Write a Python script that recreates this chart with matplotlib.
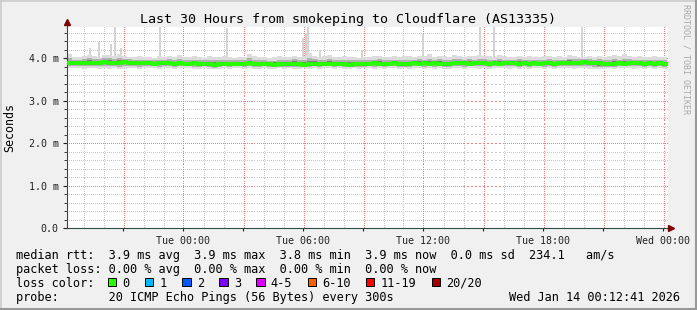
import numpy as np
import matplotlib
matplotlib.use("Agg")
import matplotlib.pyplot as plt
from matplotlib.ticker import MultipleLocator, FuncFormatter, NullLocator
from matplotlib.lines import Line2D
from matplotlib.patches import Rectangle

# 15 minute samples, hours relative to Tue 00:00 (Mon 18:12 .. Wed 00:12)
t_start, t_end, t_step = -5.8, 24.2, 0.25

median_ms = [3.88, 3.89, 3.88, 3.89, 3.90, 3.89, 3.90, 3.91, 3.90, 3.89, 3.90, 3.91, 3.90, 3.89, 3.88, 3.89, 3.88, 3.87, 3.88, 3.89, 3.88, 3.87, 3.88, 3.87,
             3.87, 3.88, 3.86, 3.87, 3.86, 3.85, 3.86, 3.87, 3.86, 3.87, 3.86, 3.87, 3.88, 3.87, 3.86, 3.87, 3.86, 3.85, 3.86, 3.87, 3.86, 3.87, 3.86, 3.85,
             3.86, 3.87, 3.86, 3.87, 3.87, 3.86, 3.87, 3.86, 3.85, 3.86, 3.87, 3.86, 3.87, 3.88, 3.87, 3.86, 3.87, 3.88, 3.87, 3.86, 3.87, 3.88, 3.87, 3.88,
             3.87, 3.88, 3.87, 3.86, 3.87, 3.88, 3.89, 3.88, 3.87, 3.88, 3.89, 3.88, 3.87, 3.88, 3.87, 3.88, 3.89, 3.88, 3.87, 3.88, 3.87, 3.88, 3.87, 3.88,
             3.88, 3.87, 3.88, 3.89, 3.90, 3.89, 3.90, 3.91, 3.90, 3.89, 3.88, 3.87, 3.86, 3.87, 3.88, 3.87, 3.88, 3.89, 3.88, 3.87, 3.88, 3.87, 3.88, 3.87]

smoke_hi_ms = [4.10, 4.04, 4.03, 4.05, 4.08, 4.06, 4.04, 4.07, 4.09, 4.05, 4.11, 4.06, 4.04, 4.03, 4.05, 4.04, 4.03, 4.02, 4.05, 4.03, 4.06, 4.04, 4.07, 4.03,
               4.04, 4.05, 4.03, 4.02, 4.06, 4.04, 4.03, 4.05, 4.04, 4.02, 4.03, 4.04, 4.10, 4.05, 4.03, 4.04, 4.02, 4.03, 4.05, 4.04, 4.03, 4.06, 4.04, 4.05,
               4.12, 4.06, 4.04, 4.05, 4.08, 4.04, 4.03, 4.05, 4.04, 4.03, 4.02, 4.04, 4.03, 4.05, 4.06, 4.04, 4.03, 4.05, 4.04, 4.06, 4.05, 4.04, 4.06, 4.05,
               4.10, 4.04, 4.06, 4.05, 4.03, 4.07, 4.05, 4.04, 4.06, 4.05, 4.08, 4.06, 4.05, 4.04, 4.07, 4.05, 4.04, 4.03, 4.06, 4.04, 4.05, 4.03, 4.04, 4.05,
               4.06, 4.04, 4.05, 4.03, 4.07, 4.05, 4.04, 4.03, 4.05, 4.04, 4.06, 4.04, 4.05, 4.07, 4.05, 4.10, 4.06, 4.04, 4.05, 4.03, 4.04, 4.05, 4.04, 4.03]

smoke_lo_ms = [3.78, 3.77, 3.78, 3.76, 3.77, 3.78, 3.75, 3.77, 3.76, 3.78, 3.74, 3.76, 3.77, 3.78, 3.76, 3.77, 3.78, 3.77, 3.76, 3.78, 3.77, 3.76, 3.77, 3.78,
               3.77, 3.76, 3.75, 3.77, 3.76, 3.74, 3.76, 3.77, 3.76, 3.77, 3.78, 3.76, 3.77, 3.76, 3.75, 3.77, 3.76, 3.75, 3.77, 3.76, 3.77, 3.75, 3.76, 3.77,
               3.76, 3.77, 3.76, 3.77, 3.78, 3.76, 3.77, 3.75, 3.76, 3.77, 3.76, 3.77, 3.78, 3.76, 3.77, 3.76, 3.77, 3.78, 3.76, 3.77, 3.76, 3.77, 3.78, 3.76,
               3.77, 3.76, 3.77, 3.75, 3.76, 3.77, 3.78, 3.76, 3.77, 3.78, 3.76, 3.77, 3.76, 3.77, 3.78, 3.77, 3.76, 3.77, 3.76, 3.77, 3.76, 3.78, 3.77, 3.76,
               3.77, 3.76, 3.77, 3.78, 3.77, 3.76, 3.77, 3.78, 3.76, 3.75, 3.74, 3.76, 3.77, 3.76, 3.77, 3.78, 3.77, 3.76, 3.77, 3.76, 3.77, 3.76, 3.77, 3.76]

# occasional slow pings (hours, top of smoke in ms)
spike_t = [-4.65, -4.2, -3.6, -3.4, -3.1, -1.15, 2.2, 6.0, 6.15, 6.25, 6.85, 8.95, 12.0, 14.85, 15.55, 19.95]
spike_top_ms = [4.24, 4.38, 4.33, 4.74, 4.24, 4.74, 4.72, 4.47, 4.60, 4.74, 4.20, 4.19, 4.57, 4.74, 4.74, 4.74]

tick_hours = [0, 6, 12, 18, 24]
tick_names = ["Tue 00:00", "Tue 06:00", "Tue 12:00", "Tue 18:00", "Wed 00:00"]

title = "Last 30 Hours from smokeping to Cloudflare (AS13335)"
legend_lines = [
    "median rtt:  3.9 ms avg  3.9 ms max  3.8 ms min  3.9 ms now  0.0 ms sd  234.1   am/s",
    "packet loss: 0.00 % avg  0.00 % max  0.00 % min  0.00 % now",
    "loss color:",
    "probe:       20 ICMP Echo Pings (56 Bytes) every 300s",
]
loss_labels = ["0", "1", "2", "3", "4-5", "6-10", "11-19", "20/20"]
loss_colors = ["#26ff00", "#00b8ff", "#0059ff", "#7e00ff", "#dd00ff", "#ff5e00", "#ff0000", "#a10000"]
stamp = "Wed Jan 14 00:12:41 2026"

W, H = 697, 310
mono = "DejaVu Sans Mono"
plt.rcParams["font.family"] = mono
fs = 8.55

fig = plt.figure(figsize=(W / 100, H / 100), dpi=100, facecolor="#F0F0F0")
ax_l, ax_r, ax_t, ax_b = 67, 668, 27, 228
ax = fig.add_axes([ax_l / W, 1 - ax_b / H, (ax_r - ax_l) / W, (ax_b - ax_t) / H])
ax.set_facecolor("white")

med = np.array(median_ms) * 1e-3
hi = np.array(smoke_hi_ms) * 1e-3
lo = np.array(smoke_lo_ms) * 1e-3
t = t_start + t_step * np.arange(len(med))
te = np.append(t, t_end)
xmax = t_end + 0.05
ymax = 4.74e-3


def ext(v):
    return np.append(v, v[-1])


# dotted grid as single pixels (1 on, 1 off) in figure pixel space
def dots_h(y, color):
    xs = np.arange(ax_l + 1.5, ax_r, 2)
    ypix = round(ax_b - y / ymax * (ax_b - ax_t)) + 0.5
    fig.add_artist(Line2D(xs / W, np.full(xs.size, 1 - ypix / H), ls="none", marker=",",
                          color=color, zorder=1.2))


def dots_v(h, color):
    ys = np.arange(ax_t + 0.5, ax_b, 2)
    xpix = round(ax_l + (h - t_start) / (xmax - t_start) * (ax_r - ax_l)) + 0.5
    fig.add_artist(Line2D(np.full(ys.size, xpix / W), 1 - ys / H, ls="none", marker=",",
                          color=color, zorder=1.2))


# smoke
ax.bar(spike_t, np.array(spike_top_ms) * 1e-3 - 3.9e-3, bottom=3.9e-3, width=0.13,
       color="#d4d4d4", align="center", zorder=2)
ax.fill_between(te, ext(lo), ext(hi), step="post", color="#dcdcdc", lw=0, zorder=2)
ax.fill_between(te, ext(med - 0.6 * (med - lo)), ext(med + 0.55 * (hi - med)), step="post",
                color="#b0b0b0", lw=0, zorder=2)
ax.fill_between(te, ext(med - 0.35 * (med - lo)), ext(med + 0.3 * (hi - med)), step="post",
                color="#7c7c7c", lw=0, zorder=2)
ax.step(te, ext(med), where="post", color="#26ff00", lw=2.8, zorder=3)

ax.set_xlim(t_start, xmax)
ax.set_ylim(0, ymax)

ax.xaxis.set_major_locator(MultipleLocator(3))
ax.xaxis.set_minor_locator(NullLocator())
ax.yaxis.set_major_locator(MultipleLocator(1e-3))
ax.yaxis.set_minor_locator(MultipleLocator(0.2e-3))

names = dict(zip(tick_hours, tick_names))
ax.xaxis.set_major_formatter(FuncFormatter(lambda v, p: names.get(int(round(v)), "") if abs(v - round(v)) < 1e-6 else ""))
ax.yaxis.set_major_formatter(FuncFormatter(lambda v, p: "0.0" if v < 1e-9 else "%.1f m" % (v * 1e3)))

ax.tick_params(axis="both", which="both", labelsize=7.2, colors="#222222", direction="out")
ax.tick_params(axis="x", which="major", length=2, pad=3.5)
ax.tick_params(axis="y", which="major", length=3, pad=3)
ax.tick_params(axis="y", which="minor", length=2.5)

for s in ["top", "right"]:
    ax.spines[s].set_visible(False)
for s in ["left", "bottom"]:
    ax.spines[s].set_color("#2C4D43")
    ax.spines[s].set_linewidth(0.8)

fig.canvas.draw()
# grid drawn behind the axes contents: put axes patch transparent and dots under data
ax.patch.set_visible(False)
fig.add_artist(Rectangle((ax_l / W, 1 - ax_b / H), (ax_r - ax_l) / W, (ax_b - ax_t) / H,
                         facecolor="white", edgecolor="none", zorder=-1))
for h in range(-5, 25):
    if h % 3:
        dots_v(h, "#c8c8c8")
for k in range(1, 24):
    if k % 5:
        dots_h(k * 0.2e-3, "#c8c8c8")
for h in range(-3, 25, 3):
    dots_v(h, "#ee8080")
for k in range(1, 5):
    dots_h(k * 1e-3, "#ee8080")
ax.set_zorder(2)

# axis extensions and arrows
fig.add_artist(Line2D([ax_r / W, 670 / W], [1 - ax_b / H] * 2, color="#2C4D43", lw=0.8, zorder=3))
fig.add_artist(Line2D([ax_l / W] * 2, [1 - ax_t / H, 1 - 23 / H], color="#2C4D43", lw=0.8, zorder=3))
fig.add_artist(Line2D([671 / W], [1 - ax_b / H], marker=">", ms=4, color="#7F0000", mec="#7F0000", zorder=3))
fig.add_artist(Line2D([ax_l / W], [1 - 22 / H], marker="^", ms=4, color="#7F0000", mec="#7F0000", zorder=3))

# texts
fig.text(348 / W, 1 - 19 / H, title, ha="center", va="center", fontsize=9.6, color="black")
fig.text(10 / W, 1 - 128 / H, "Seconds", rotation=90, ha="center", va="center", fontsize=8.4)
fig.text(686 / W, 1 - 4 / H, "RRDTOOL / TOBI OETIKER", rotation=270, ha="center", va="top",
         fontsize=6, color="#a8a8a8")

baselines = [258.5, 272.8, 286.8, 301.0]
for line, yb in zip(legend_lines, baselines):
    fig.text(16 / W, 1 - yb / H, line, ha="left", va="baseline", fontsize=fs)
fig.text(680 / W, 1 - baselines[3] / H, stamp, ha="right", va="baseline", fontsize=fs)

bx = 108.0
for lab, col in zip(loss_labels, loss_colors):
    fig.add_artist(Rectangle((bx / W, 1 - 286.3 / H), 8.3 / W, 8.3 / H, facecolor=col,
                             edgecolor="black", lw=0.7))
    fig.text((bx + 14.5) / W, 1 - baselines[2] / H, lab, ha="left", va="baseline", fontsize=fs)
    bx += 30 + 7.1 * len(lab)

# frame
fig.add_artist(Line2D([0, 1], [1 - 0.5 / H] * 2, color="#CBCBCB", lw=1.2))
fig.add_artist(Line2D([0.5 / W] * 2, [0, 1], color="#CBCBCB", lw=1.2))
fig.add_artist(Line2D([0, 1], [1 / H] * 2, color="#999999", lw=1.5))
fig.add_artist(Line2D([1 - 1 / W] * 2, [0, 1], color="#999999", lw=1.5))

fig.savefig("out.png", dpi=100, facecolor=fig.get_facecolor())
